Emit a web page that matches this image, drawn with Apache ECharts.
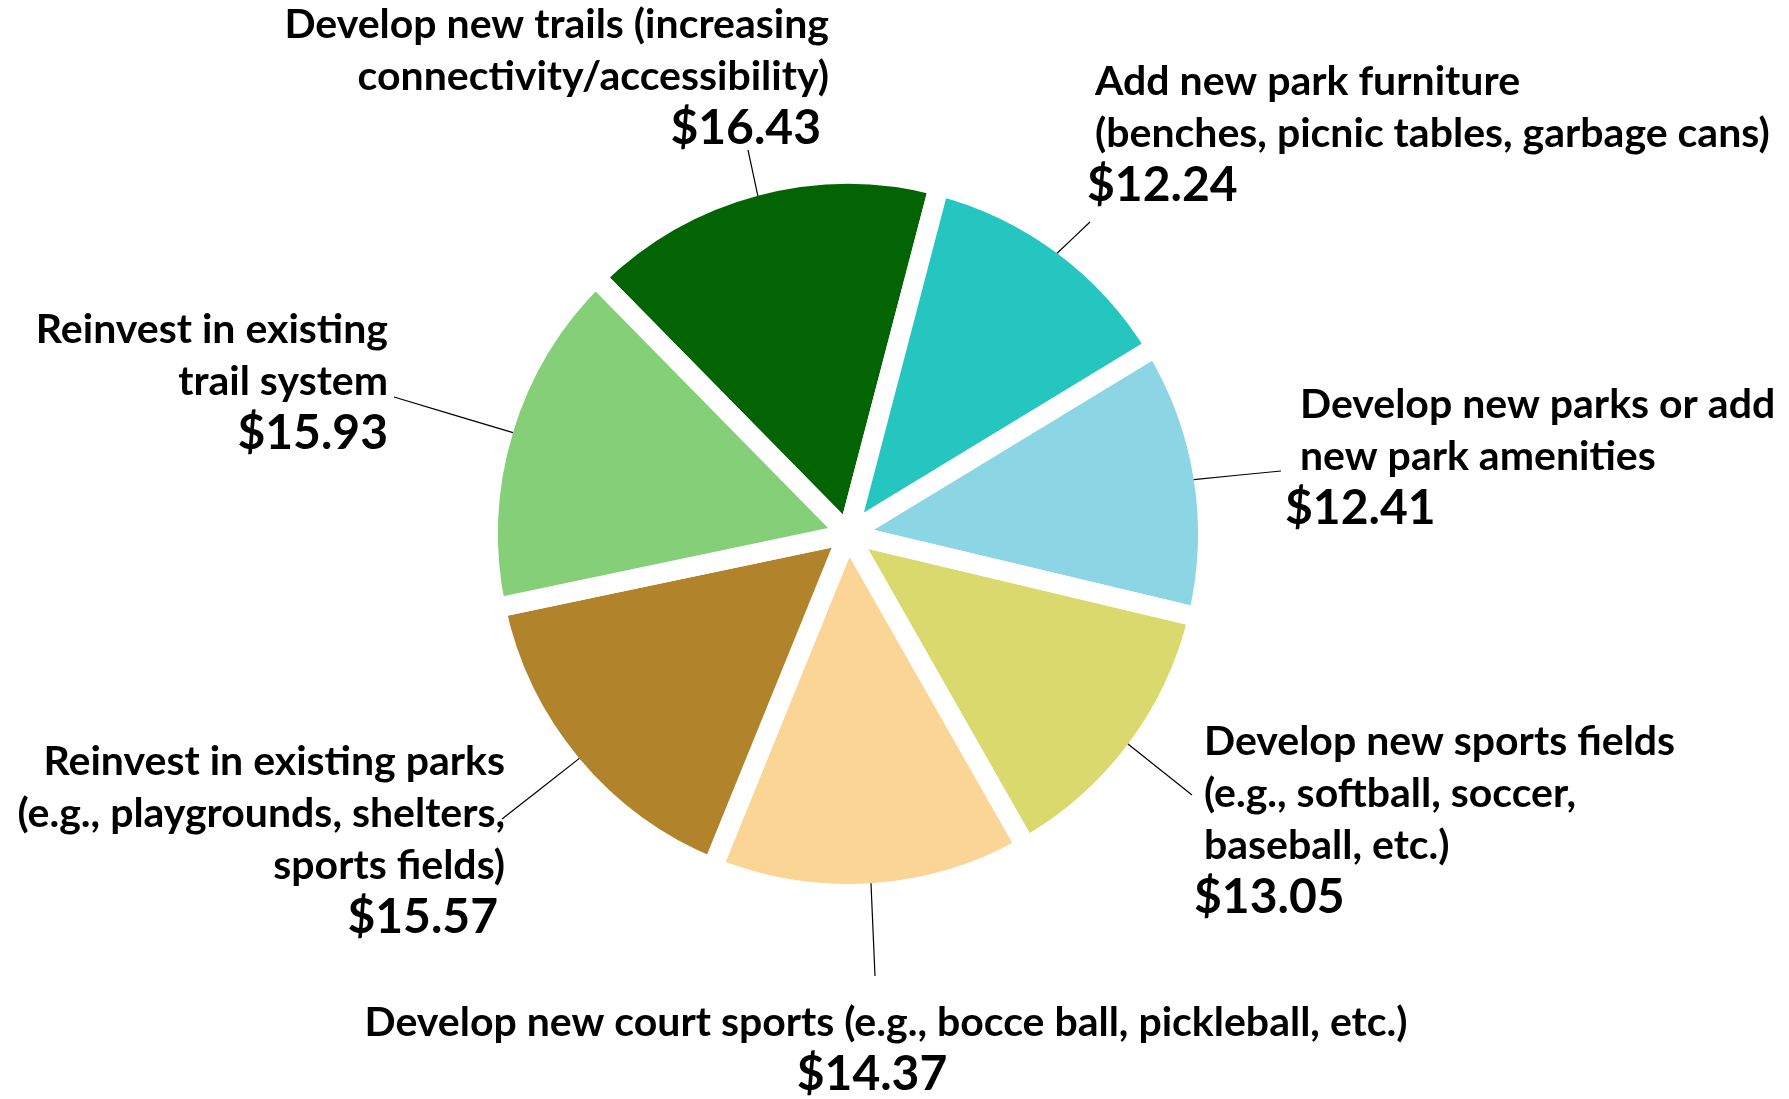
<!DOCTYPE html>
<html>
<head>
<meta charset="utf-8">
<title>Park spending allocation</title>
<script src="https://cdn.jsdelivr.net/npm/echarts@6/dist/echarts.min.js"></script>
<style>
    html, body { margin: 0; padding: 0; background: #fff; }
    #chart { width: 1789px; height: 1099px; }
</style>
</head>
<body>
<div id="chart"></div>
<script>
// slices, clockwise from the upper left
const categories = [
    'Develop new trails (increasing\nconnectivity/accessibility)',
    'Add new park furniture\n(benches, picnic tables, garbage cans)',
    'Develop new parks or add\nnew park amenities',
    'Develop new sports fields\n(e.g., softball, soccer,\nbaseball, etc.)',
    'Develop new court sports (e.g., bocce ball, pickleball, etc.)',
    'Reinvest in existing parks\n(e.g., playgrounds, shelters,\nsports fields)',
    'Reinvest in existing\ntrail system'
];
const amounts = [16.43, 12.24, 12.41, 13.05, 14.37, 15.57, 15.93];

const colors = ['#036403', '#25C6C0', '#8BD5E5', '#D9D96E', '#FAD595', '#B1832A', '#84CF77'];

const pieCenter = [848, 534];
const pieRadius = 360;   // half of the border is eaten off the rim
const gap = 20;
const startAngle = 134.5;

// where each label block sits: [x, top, align]
const labelSpots = [
    [829, -1, 'right'],
    [1087, 56, 'left'],
    [1285, 379, 'left'],
    [1194, 716, 'left'],
    [886, 997, 'center'],
    [505, 736, 'right'],
    [388, 304, 'right']
];
// small offsets between the text lines and the dollar line: [name pad left, value pad right]
const linePads = [[0, 8], [8, 0], [15, 0], [10, 0], [0, 28], [0, 7], [0, 0]];
// where each leader line ends
const lineEnds = [
    [748, 150], [1090, 222], [1281, 471], [1192, 795],
    [875, 976], [502, 819], [394, 397]
];

// leader start: rim of the slice at its middle angle
const total = amounts.reduce(function (a, b) { return a + b; }, 0);
const lineStarts = [];
let acc = 0;
amounts.forEach(function (v) {
    const ang = (startAngle - (acc + v / 2) / total * 360) * Math.PI / 180;
    const r = pieRadius - gap / 2;
    lineStarts.push([pieCenter[0] + r * Math.cos(ang), pieCenter[1] - r * Math.sin(ang)]);
    acc += v;
});

function richFor(i) {
    const pad = linePads[i];
    return {
        n: {
            fontFamily: 'Lato',
            fontWeight: 'bold',
            fontSize: 41,
            lineHeight: 52,
            color: '#000',
            padding: [0, 0, 0, pad[0]]
        },
        v: {
            fontFamily: 'Lato',
            fontWeight: 'bold',
            fontSize: 48,
            lineHeight: 52,
            color: '#000',
            padding: [0, pad[1], 0, 0]
        }
    };
}

const chart = echarts.init(document.getElementById('chart'));

const option = {
    backgroundColor: '#fff',
    animation: false,
    series: [
        {
            // the coloured slices; a thick white border opens the gaps
            type: 'pie',
            z: 2,
            silent: true,
            center: pieCenter,
            radius: pieRadius,
            startAngle: startAngle,
            clockwise: true,
            label: { show: false },
            labelLine: { show: false },
            itemStyle: { borderWidth: gap, borderColor: '#fff', borderJoin: 'round' },
            data: categories.map(function (name, i) {
                return { name: name, value: amounts[i], itemStyle: { color: colors[i] } };
            })
        },
        {
            // same pie, invisible, drawn on top so the leader lines reach the rims
            type: 'pie',
            z: 3,
            silent: true,
            center: pieCenter,
            radius: pieRadius - gap / 2,
            startAngle: startAngle,
            clockwise: true,
            avoidLabelOverlap: false,
            itemStyle: { color: 'rgba(0,0,0,0)', borderWidth: 0 },
            label: {
                show: true,
                position: 'outside',
                formatter: function (p) {
                    const lines = p.name.split('\n').map(function (s) { return '{n|' + s + '}'; });
                    return lines.join('\n') + '\n{v|$' + p.value.toFixed(2) + '}';
                }
            },
            labelLine: {
                show: true,
                lineStyle: { color: '#000', width: 1.2 }
            },
            labelLayout: function (p) {
                const s = labelSpots[p.dataIndex];
                const a = lineStarts[p.dataIndex];
                const e = lineEnds[p.dataIndex];
                const m = [(a[0] + e[0]) / 2, (a[1] + e[1]) / 2];
                return {
                    x: s[0],
                    y: s[1],
                    align: s[2],
                    verticalAlign: 'top',
                    labelLinePoints: [a, m, e]
                };
            },
            data: categories.map(function (name, i) {
                return {
                    name: name,
                    value: amounts[i],
                    label: { rich: richFor(i) }
                };
            })
        }
    ]
};

chart.setOption(option);
</script>
</body>
</html>
